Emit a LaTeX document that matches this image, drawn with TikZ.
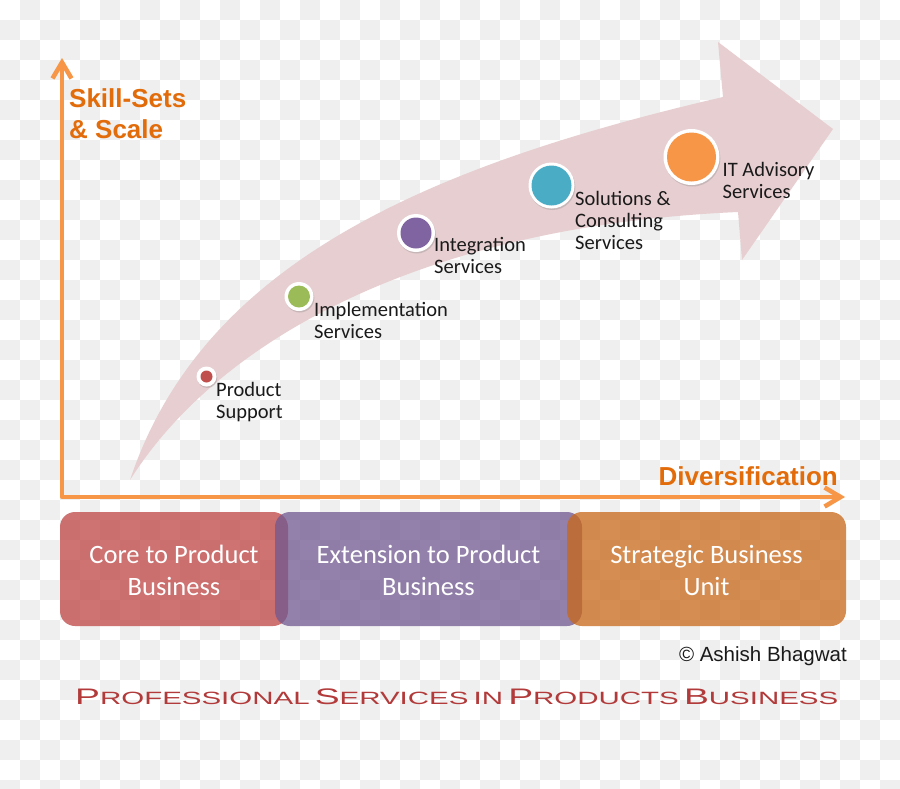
\documentclass[tikz,border=0pt]{standalone}
\usepackage{graphicx}
\usepackage{fontspec}
\setmainfont{Carlito}
\newfontfamily\lsans{Liberation Sans}
\usetikzlibrary{arrows.meta,shadows}
\definecolor{chk}{RGB}{239,239,239}
\definecolor{arrowpink}{RGB}{231,206,208}
\definecolor{axisc}{RGB}{247,150,70}
\definecolor{axtext}{RGB}{226,107,10}
\definecolor{labelc}{RGB}{26,26,26}
\definecolor{cred}{RGB}{192,80,77}
\definecolor{cgreen}{RGB}{155,187,89}
\definecolor{cpurple}{RGB}{128,100,162}
\definecolor{cteal}{RGB}{75,172,198}
\definecolor{corange}{RGB}{247,150,70}
\definecolor{bred}{RGB}{191,67,67}
\definecolor{bpurple}{RGB}{112,88,144}
\definecolor{borange}{RGB}{201,104,24}
\definecolor{titlec}{RGB}{178,58,58}
\newcommand\mlines[2][l]{\begin{tabular}[t]{@{}#1@{}}#2\end{tabular}}
\newcommand\BigL[1]{{\fontsize{20}{24}\selectfont #1}}
\newcommand\SmL[1]{{\fontsize{15.8}{24}\selectfont #1}}
\begin{document}
\begin{tikzpicture}[x=1pt,y=-1pt,
  dotring/.style={circle, fill=white, draw=none, inner sep=0pt,
    drop shadow={shadow xshift=0.8pt, shadow yshift=-1.5pt, opacity=0.3}},
  lbl/.style={anchor=base west, inner sep=0pt, text=labelc,
    font=\fontsize{20.5}{22}\selectfont},
  axislbl/.style={anchor=base west, inner sep=0pt, text=axtext,
    font=\lsans\bfseries\fontsize{26}{31}\selectfont},
  axisline/.style={draw=axisc, line width=4.5pt, line join=round,
    {Straight Barb[length=16pt,width=19pt]}-{Straight Barb[length=16pt,width=19pt]}},
  bizbox/.style={rounded corners=15pt, minimum width=#1, minimum height=114pt,
    inner sep=0pt, fill opacity=0.75},
  boxtext/.style={inner sep=0pt, text=white, font=\fontsize{26.5}{32}\selectfont},
]
\useasboundingbox (0,0) rectangle (900,788);
% checkerboard background
\fill[white] (0,0) rectangle (900,788);
\foreach \i in {0,...,44}{
  \foreach \j in {0,...,19}{
    \pgfmathtruncatemacro{\yy}{40*\j + 20*(1-mod(\i,2))}
    \fill[chk] (20*\i,\yy) rectangle ++(20,20);
  }
}
% big curved arrow
\fill[arrowpink] (130,480) .. controls (200,270) and (412,169) .. (723,97)
  -- (718,42) -- (833,129) -- (742,260) -- (738,212)
  .. controls (440,225) and (225,330) .. (130,480) -- cycle;
% milestones
\node[dotring, minimum size=20pt] (ps) at (206.5,376.5) {};
\fill[cred] (ps.center) circle [radius=6pt];
\node[dotring, minimum size=29pt] (is) at (299,296.5) {};
\fill[cgreen] (is.center) circle [radius=11pt];
\node[dotring, minimum size=38pt] (ig) at (416,233) {};
\fill[cpurple] (ig.center) circle [radius=15.5pt];
\node[dotring, minimum size=46pt] (sc) at (551.5,185.5) {};
\fill[cteal] (sc.center) circle [radius=20pt];
\node[dotring, minimum size=56pt] (it) at (691.5,157) {};
\fill[corange] (it.center) circle [radius=24.5pt];
% labels
\node[lbl] (psl) at (216,396.5) {\mlines{Product\\Support}};
\node[lbl] (isl) at (314,316) {\mlines{Implementation\\Services}};
\node[lbl] (igl) at (434,251.5) {\mlines{Integration\\Services}};
\node[lbl] (scl) at (575,205.5) {\mlines{Solutions \&\\Consulting\\Services}};
\node[lbl] (itl) at (722.5,176.5) {\mlines{IT Advisory\\Services}};
% axes
\coordinate (O) at (62,497);
\coordinate (ytip) at (62,58);
\coordinate (xtip) at (845,497);
\draw[axisline] (ytip) -- (O) -- (xtip);
\node[axislbl] (ylab) at (69,107.5) {\mlines{Skill-Sets\\\& Scale}};
\node[axislbl] (xlab) at (658.5,485) {Diversification};
% business boxes
\node[bizbox=228pt, fill=bred] (core) at (174,569) {};
\node[bizbox=307pt, fill=bpurple] (ext) at (428.5,569) {};
\node[bizbox=279pt, fill=borange] (sbu) at (706.5,569) {};
\node[boxtext] (coret) at ([yshift=-4.5pt]core.center) {\mlines[c]{Core to Product\\Business}};
\node[boxtext] (extt) at ([yshift=-4.5pt]ext.center) {\mlines[c]{Extension to Product\\Business}};
\node[boxtext] (sbut) at ([yshift=-4.5pt]sbu.center) {\mlines[c]{Strategic Business\\Unit}};
% copyright and title
\node[anchor=base east, inner sep=0pt, text=labelc, font=\lsans\fontsize{20.5}{24}\selectfont] (copy) at (847,661) {©~Ashish Bhagwat};
\node[anchor=base west, inner sep=0pt, text=titlec] (title) at (75,704)
  {\resizebox{763pt}{15.7pt}{\lsans\BigL{P}\SmL{ROFESSIONAL} \BigL{S}\SmL{ERVICES} \SmL{IN} \BigL{P}\SmL{RODUCTS} \BigL{B}\SmL{USINESS}}};
\end{tikzpicture}
\end{document}
